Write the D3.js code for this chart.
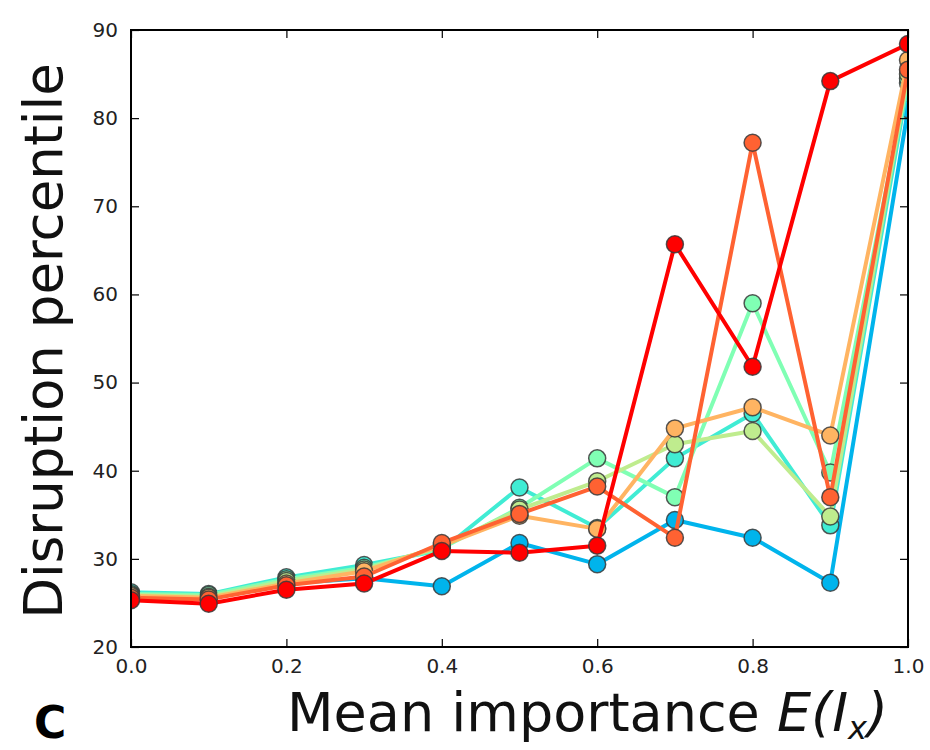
<!DOCTYPE html>
<html>
<head>
<meta charset="utf-8">
<script src="https://cdn.jsdelivr.net/npm/d3@7"></script>
<style>
  html, body { margin: 0; padding: 0; background: #fff; }
  svg { display: block; }
  text { font-family: "DejaVu Sans", sans-serif; }
</style>
</head>
<body>
<svg id="chart" width="930" height="750"></svg>
<script>
// ---- data ----
const xValues = [0.0, 0.1, 0.2, 0.3, 0.4, 0.5, 0.6, 0.7, 0.8, 0.9, 1.0];
const seriesBlue      = [26.0, 25.8, 27.2, 27.8, 26.9, 31.8, 29.4, 34.4, 32.4, 27.3, 81.0];
const seriesTurquoise = [26.2, 26.0, 27.9, 29.3, 31.0, 38.1, 33.5, 41.4, 46.5, 33.8, 84.0];
const seriesMint      = [26.0, 25.9, 27.7, 29.0, 31.2, 35.8, 41.4, 37.0, 59.0, 39.8, 84.5];
const seriesLime      = [25.9, 25.7, 27.5, 28.8, 31.4, 35.6, 38.8, 43.0, 44.5, 34.8, 85.0];
const seriesOrange    = [25.8, 25.6, 27.2, 28.6, 31.5, 34.9, 33.4, 44.8, 47.2, 44.0, 86.6];
const seriesOrangeRed = [25.6, 25.4, 27.0, 28.0, 31.8, 35.1, 38.2, 32.4, 77.2, 37.0, 85.5];
const seriesRed       = [25.3, 24.9, 26.5, 27.2, 30.9, 30.7, 31.5, 65.7, 51.8, 84.2, 88.4];
const seriesList = [seriesBlue, seriesTurquoise, seriesMint, seriesLime, seriesOrange, seriesOrangeRed, seriesRed];
const xTicks = [0.0, 0.2, 0.4, 0.6, 0.8, 1.0];
const xTickLabels = ["0.0", "0.2", "0.4", "0.6", "0.8", "1.0"];
const yTicks = [20, 30, 40, 50, 60, 70, 80, 90];
const yTickLabels = ["20", "30", "40", "50", "60", "70", "80", "90"];
const yLabel = "Disruption percentile";
const xLabelText = "Mean importance ";
const panelLetter = "C";

// colours: matplotlib "rainbow" sampled from 0.25 to 1.0
function rainbow(t) {
  const r = Math.min(1, Math.abs(2 * t - 0.5));
  const g = Math.sin(Math.PI * t);
  const b = Math.cos(Math.PI * t / 2);
  return d3.rgb(Math.round(r * 255), Math.round(g * 255), Math.round(Math.max(0, b) * 255)).formatHex();
}
const colors = seriesList.map((s, i) => rainbow(0.25 + i * 0.125));

// ---- layout ----
const M = { left: 131, right: 908, top: 30, bottom: 647 };
const svg = d3.select("#chart");
const x = d3.scaleLinear().domain([0, 1]).range([M.left, M.right]);
const y = d3.scaleLinear().domain([20, 90]).range([M.bottom, M.top]);

svg.append("defs").append("clipPath").attr("id", "plotclip")
  .append("rect").attr("x", M.left).attr("y", M.top).attr("width", M.right - M.left).attr("height", M.bottom - M.top);

const plot = svg.append("g").attr("clip-path", "url(#plotclip)");
const line = d3.line().x((d, i) => x(xValues[i])).y(d => y(d));

seriesList.forEach((s, k) => {
  const g = plot.append("g");
  g.append("path").datum(s)
    .attr("d", line)
    .attr("fill", "none")
    .attr("stroke", colors[k])
    .attr("stroke-width", 4)
    .attr("stroke-linejoin", "round");
  g.selectAll("circle").data(s).enter().append("circle")
    .attr("cx", (d, i) => x(xValues[i]))
    .attr("cy", d => y(d))
    .attr("r", 8.5)
    .attr("fill", colors[k])
    .attr("stroke", "#3a3a3a")
    .attr("stroke-opacity", 0.85)
    .attr("stroke-width", 1.5);
});

// ---- axes ----
const tickLen = 8;
const xAxisB = d3.axisBottom(x).tickValues(xTicks).tickFormat((d, i) => xTickLabels[i]).tickSizeInner(-tickLen).tickSizeOuter(0).tickPadding(tickLen + 4);
const xAxisT = d3.axisTop(x).tickValues(xTicks).tickFormat("").tickSizeInner(-tickLen).tickSizeOuter(0);
const yAxisL = d3.axisLeft(y).tickValues(yTicks).tickFormat((d, i) => yTickLabels[i]).tickSizeInner(-tickLen).tickSizeOuter(0).tickPadding(tickLen + 5);
const yAxisR = d3.axisRight(y).tickValues(yTicks).tickFormat("").tickSizeInner(-tickLen).tickSizeOuter(0);

function styleAxis(g) {
  g.select(".domain").remove();
  g.selectAll(".tick line").attr("stroke", "#000").attr("stroke-width", 1.2);
  g.selectAll(".tick text").attr("fill", "#222").style("font-size", "20px").style("font-family", "'DejaVu Sans', sans-serif");
}
svg.append("g").attr("transform", `translate(0,${M.bottom})`).call(xAxisB).call(styleAxis);
svg.append("g").attr("transform", `translate(0,${M.top})`).call(xAxisT).call(styleAxis);
svg.append("g").attr("transform", `translate(${M.left},0)`).call(yAxisL).call(styleAxis);
svg.append("g").attr("transform", `translate(${M.right},0)`).call(yAxisR).call(styleAxis);

// frame
svg.append("rect").attr("x", M.left).attr("y", M.top).attr("width", M.right - M.left).attr("height", M.bottom - M.top)
  .attr("fill", "none").attr("stroke", "#000").attr("stroke-width", 2);

// ---- labels ----
svg.append("text")
  .attr("transform", `translate(62,341) rotate(-90)`)
  .attr("text-anchor", "middle")
  .style("font-size", "53px")
  .attr("fill", "#111")
  .text(yLabel);

const xl = svg.append("text")
  .attr("x", 287).attr("y", 731)
  .style("font-size", "54px")
  .attr("fill", "#111");
xl.append("tspan").text(xLabelText);
xl.append("tspan").style("font-style", "italic").text("E(I");
xl.append("tspan").style("font-style", "italic").style("font-size", "32px").attr("dy", 8).text("x");
xl.append("tspan").style("font-style", "italic").attr("dy", -8).text(")");

svg.append("text")
  .attr("x", 34).attr("y", 738)
  .style("font-size", "44px")
  .style("font-weight", "bold")
  .attr("fill", "#000")
  .text(panelLetter);
</script>
</body>
</html>
